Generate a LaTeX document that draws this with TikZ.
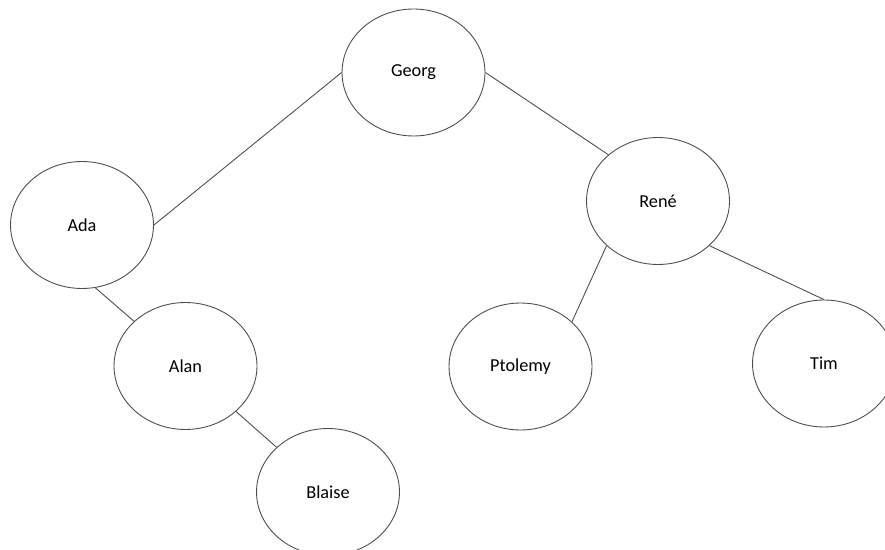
\documentclass[tikz,border=0pt]{standalone}
\usepackage{fontspec}
\setmainfont{Carlito}
\usetikzlibrary{shapes.geometric}

\tikzset{every node/.style={ellipse, draw, fill=white}}
\tikzset{link/.style={draw=black!70, line width=0.5pt}}

\begin{document}
\begin{tikzpicture}[x=0.02cm, y=-0.02cm, every node/.style={ellipse, draw=black!70, line width=0.5pt, fill=white, minimum width=2.86cm, minimum height=2.54cm, inner sep=0pt, font=\fontsize{10.4}{12}\selectfont}]
			\useasboundingbox (0,0) rectangle (885,550);
			
			% Define vertices
			\node (G) at (413.5,72.5) {Georg};
			\node (A) at (82,225) {Ada};
			\node (R) at (658,201) {René};
			\node (L) at (185.5,366) {Alan};
			\node (B) at (328,492) {Blaise};
			\node (P) at (520.5,366.5) {Ptolemy};
			\node (T) at (824,363.5) {Tim};
			
			% Edges from Georg
			\draw[link] (G.west) -- (A.east);
			\draw[link] (G.east) -- (R.137);
			
			% Edges down the left side
			\draw[link] (A.-78) -- (L.139);
			\draw[link] (L.-42) -- (B.139);
			
			% Edges between René and its children
			\draw[link] (R.221) -- (P.41);
			\draw[link] (R.-41) -- (T.north);
			
		\end{tikzpicture}
\end{document}
